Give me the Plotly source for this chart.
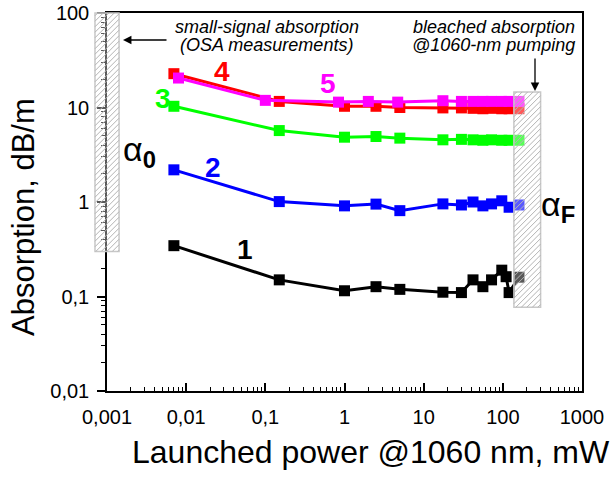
import math
import plotly.graph_objects as go

# ---------------- data ----------------
x_main = [0.007, 0.15, 1, 2.5, 5, 17.5, 30, 42, 56, 72, 97, 120, 160]
x_black = [0.007, 0.15, 1, 2.5, 5, 17.5, 30, 42, 56, 72, 97, 110, 120, 160]
x_mag = [0.008, 0.1, 0.84, 2.0, 4.7, 17.5, 30, 42, 56, 72, 97, 120, 160]

y1_black = [0.345, 0.150, 0.115, 0.127, 0.119, 0.111, 0.110, 0.150, 0.127, 0.150, 0.190, 0.162, 0.110, 0.160]
y2_blue = [2.19, 1.01, 0.91, 0.95, 0.81, 0.955, 0.93, 1.0, 0.91, 0.955, 1.03, 0.88, 0.93]
y3_green = [10.3, 5.7, 4.85, 4.93, 4.74, 4.55, 4.6, 4.55, 4.5, 4.55, 4.5, 4.5, 4.5]
y4_red = [22.8, 11.6, 10.3, 10.3, 10.0, 9.9, 9.9, 9.8, 9.7, 9.8, 9.7, 9.7, 9.7]
y5_mag = [20.5, 11.9, 11.4, 11.6, 11.4, 11.8, 11.6, 11.6, 11.6, 11.6, 11.6, 11.6, 11.6]

# small-signal absorption alpha_0 (OSA measurements)
x_alpha0 = 0.0008
alpha0_vals = {"5": 54, "4": 44, "3": 25.3, "2": 5.5, "1": 0.70}

series_names = ["1", "2", "3", "4", "5"]
colors = {"1": "#000000", "2": "#0000ff", "3": "#00ff00", "4": "#ff0000", "5": "#ff00ff"}

x_tickvals = [0.001, 0.01, 0.1, 1, 10, 100, 1000]
x_ticktext = ["0,001", "0,01", "0,1", "1", "10", "100", "1000"]
y_tickvals = [0.01, 0.1, 1, 10, 100]
y_ticktext = ["0,01", "0,1", "1", "10", "100"]

X_RANGE = (-3, 3)
Y_RANGE = (-2, 2)

# ---------------- layout geometry ----------------
W, H = 615, 477
ML, MR, MT, MB = 107, 33, 13, 86
PW, PH = W - ML - MR, H - MT - MB
FONT = "Arial, Liberation Sans, sans-serif"


def px_x(v):
    return ML + (math.log10(v) - X_RANGE[0]) / (X_RANGE[1] - X_RANGE[0]) * PW


def px_y(v):
    return MT + PH - (math.log10(v) - Y_RANGE[0]) / (Y_RANGE[1] - Y_RANGE[0]) * PH


def paper_x(p):
    return (p - ML) / PW


def paper_y(p):
    return (MT + PH - p) / PH


fig = go.Figure()

data = {
    "1": (x_black, y1_black),
    "2": (x_main, y2_blue),
    "3": (x_main, y3_green),
    "4": (x_main, y4_red),
    "5": (x_mag, y5_mag),
}
for name in series_names:
    xs, ys = data[name]
    fig.add_trace(go.Scatter(
        x=xs, y=ys, mode="lines+markers",
        line=dict(color=colors[name], width=3),
        marker=dict(symbol="square", size=11, color=colors[name]),
        showlegend=False,
    ))

for name in ["1", "2", "3", "4", "5"]:
    fig.add_trace(go.Scatter(
        x=[x_alpha0], y=[alpha0_vals[name]], mode="markers",
        marker=dict(symbol="square", size=11, color=colors[name]),
        cliponaxis=False, showlegend=False,
    ))

# ---------------- hatched boxes ----------------
shapes = []


def hatched_box(x0, x1, y0, y1, spacing=5.5):
    X0, X1 = px_x(x0), px_x(x1)
    Y0, Y1 = px_y(y1), px_y(y0)  # top, bottom (screen px)
    shapes.append(dict(type="rect", xref="paper", yref="paper",
                       x0=paper_x(X0), x1=paper_x(X1), y0=paper_y(Y1), y1=paper_y(Y0),
                       line=dict(color="#c8c8c8", width=1.5),
                       fillcolor="rgba(255,255,255,0.35)", layer="above"))
    c = X0 + Y0 + spacing / 2
    while c < X1 + Y1:
        xa = max(X0, c - Y1)
        xb = min(X1, c - Y0)
        if xb > xa:
            shapes.append(dict(type="line", xref="paper", yref="paper",
                               x0=paper_x(xa), y0=paper_y(c - xa),
                               x1=paper_x(xb), y1=paper_y(c - xb),
                               line=dict(color="#b4b4b4", width=1), layer="above"))
        c += spacing


hatched_box(0.000705, 0.00142, 0.30, 100)
hatched_box(138, 300, 0.077, 14.6)

# ---------------- annotations ----------------
ann = []


def txt(xp, yp, text, size, color="black", xanchor="center", **kw):
    d = dict(x=paper_x(xp), y=paper_y(yp), xref="paper", yref="paper", text=text,
             showarrow=False, xanchor=xanchor, yanchor="middle",
             font=dict(family=FONT, size=size, color=color))
    d.update(kw)
    ann.append(d)


txt(267, 27, "<i>small-signal absorption</i>", 18)
txt(266, 45, "<i>(OSA measurements)</i>", 18)
txt(577, 27, "<i>bleached absorption</i>", 18, xanchor="right")
txt(577, 45, "<i>@1060-nm pumping</i>", 18, xanchor="right")

# series number labels
txt(245, 249, "<b>1</b>", 28, colors["1"])
txt(213, 167, "<b>2</b>", 28, colors["2"])
txt(163, 98, "<b>3</b>", 28, colors["3"])
txt(222, 71, "<b>4</b>", 28, colors["4"])
txt(328, 84, "<b>5</b>", 28, colors["5"])

# alpha labels
txt(121, 152, "α<sub><b>0</b></sub>", 34, xanchor="left")
txt(539, 206, "α<sub><b>F</b></sub>", 34, xanchor="left")

# axis titles
txt(371, 452, "Launched power @1060 nm, mW", 32)
txt(23, 217, "Absorption, dB/m", 31, textangle=-90)

# arrows
ann.append(dict(x=paper_x(123), y=paper_y(40), xref="paper", yref="paper", text="",
                showarrow=True, ax=45, ay=0, arrowhead=2, arrowsize=1.3,
                arrowwidth=1.3, arrowcolor="black"))
ann.append(dict(x=paper_x(535), y=paper_y(91), xref="paper", yref="paper", text="",
                showarrow=True, ax=0, ay=-34, arrowhead=2, arrowsize=1.3,
                arrowwidth=1.3, arrowcolor="black"))

# minor ticks
x_minor = [m * 10 ** k for k in range(-3, 3) for m in range(2, 10)]
y_minor = [m * 10 ** k for k in range(-2, 2) for m in range(2, 10)]

fig.update_layout(
    width=W, height=H,
    margin=dict(l=ML, r=MR, t=MT, b=MB, pad=0, autoexpand=False),
    plot_bgcolor="white", paper_bgcolor="white",
    font=dict(family=FONT, size=20, color="black"),
    shapes=shapes, annotations=ann,
    xaxis=dict(type="log", range=list(X_RANGE), tickmode="array",
               tickvals=x_tickvals, ticktext=x_ticktext, automargin=False,
               ticks="inside", ticklen=8, tickwidth=1.5, tickcolor="black",
               showline=True, linecolor="black", linewidth=1.5, mirror=True,
               showgrid=False, zeroline=False, ticklabelstandoff=7,
               minor=dict(tickmode="array", tickvals=x_minor, ticks="inside",
                          ticklen=4, tickwidth=1.2, tickcolor="black", showgrid=False)),
    yaxis=dict(type="log", range=list(Y_RANGE), tickmode="array",
               tickvals=y_tickvals, ticktext=y_ticktext, automargin=False,
               ticks="outside", ticklen=8, tickwidth=1.5, tickcolor="black",
               showline=True, linecolor="black", linewidth=1.5, mirror=True,
               showgrid=False, zeroline=False, ticklabelstandoff=4,
               minor=dict(tickmode="array", tickvals=y_minor, ticks="outside",
                          ticklen=4, tickwidth=1.2, tickcolor="black", showgrid=False)),
)

fig.write_html(
    "out.html",
    config={"displayModeBar": False},
    post_script="document.body.style.margin='0px';document.body.style.overflow='hidden';",
)
